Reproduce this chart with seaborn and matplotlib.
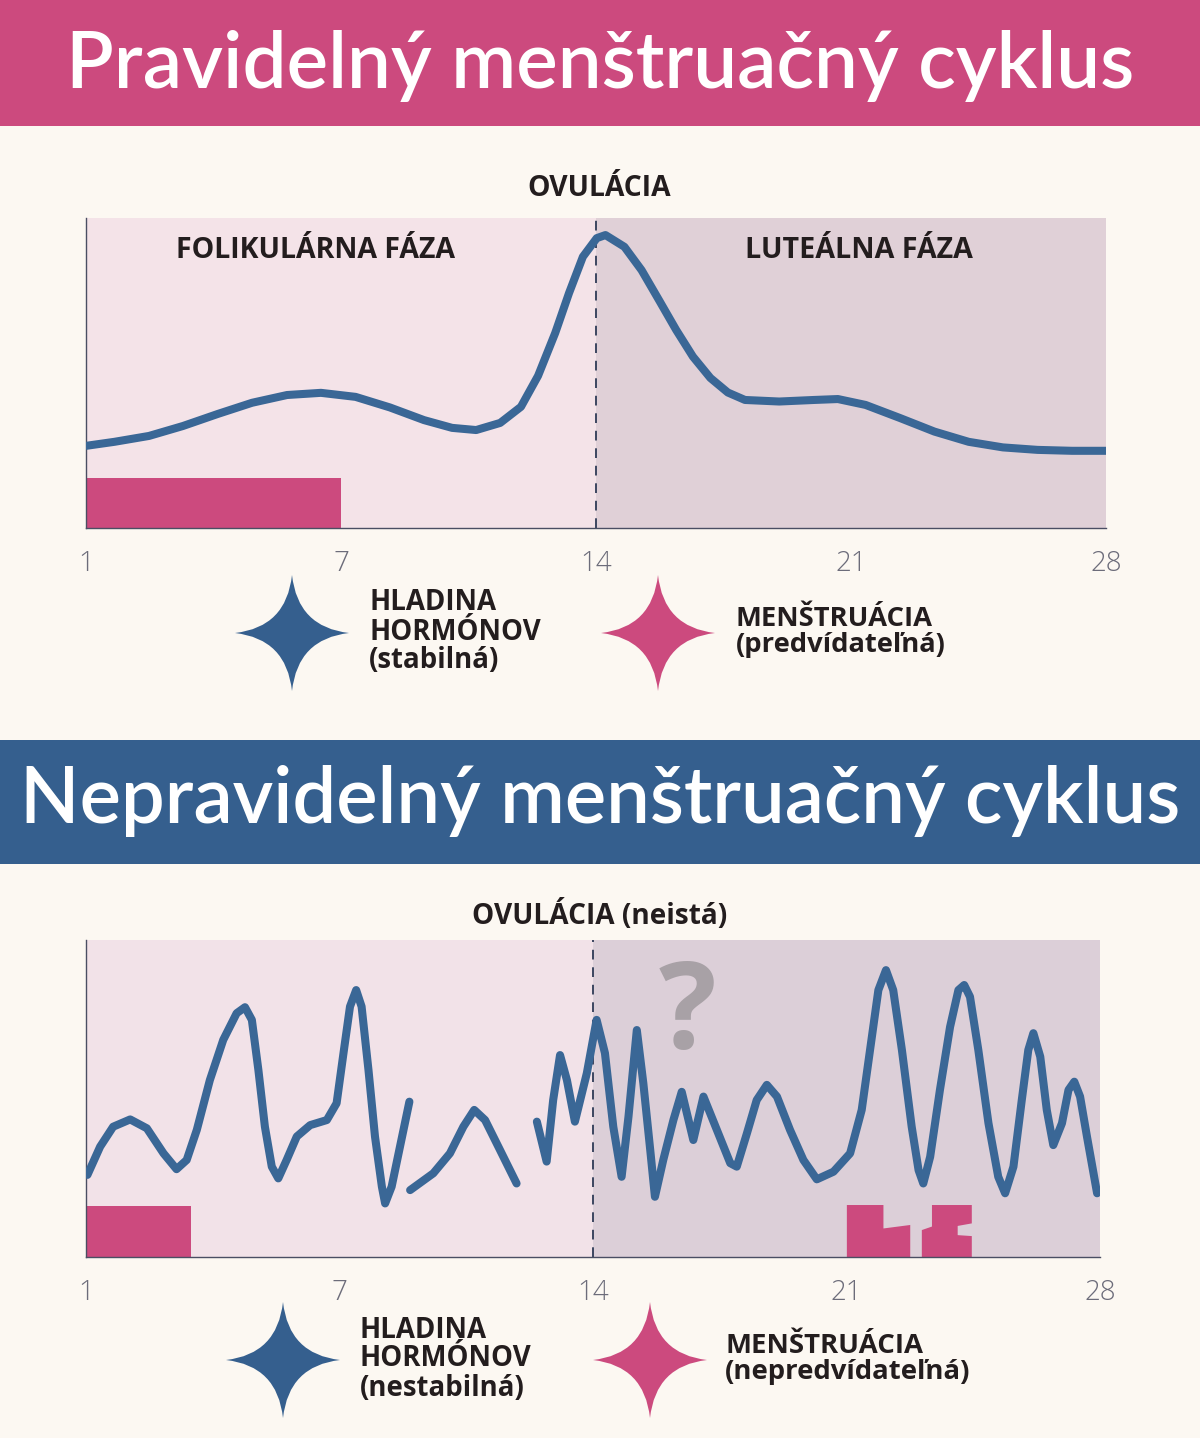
import matplotlib
matplotlib.use("Agg")
import matplotlib.pyplot as plt
import pandas as pd
import seaborn as sns
from matplotlib.path import Path
from matplotlib.patches import PathPatch, Rectangle

# --- data ---
tick_pos = [0, 7, 14, 21, 28]
tick_labels = ["1", "7", "14", "21", "28"]
ovulation_day = 14

# regular cycle: hormone level (0-10 scale)
reg_days = [0, 0.78, 1.73, 2.66, 3.62, 4.56, 5.52, 6.45, 7.4, 8.34, 9.28, 10.05, 10.71, 11.37,
            11.94, 12.41, 12.88, 13.26, 13.64, 14.02, 14.26, 14.78, 15.25, 15.73, 16.2, 16.66,
            17.14, 17.62, 18.09, 19.03, 19.98, 20.64, 21.4, 22.34, 23.29, 24.23, 25.17, 26.12,
            27.07, 28.0]
reg_level = [2.65, 2.78, 2.97, 3.29, 3.68, 4.04, 4.29, 4.36, 4.23, 3.89, 3.48, 3.23, 3.16, 3.39,
             3.91, 4.91, 6.29, 7.58, 8.75, 9.35, 9.45, 9.07, 8.32, 7.35, 6.39, 5.53,
             4.84, 4.37, 4.13, 4.08, 4.13, 4.16, 3.97, 3.55, 3.11, 2.78, 2.6, 2.52,
             2.49, 2.49]
reg_period_start, reg_period_end, period_height = 0, 7, 1.6

# irregular cycle: three broken pieces of the hormone line
irr_days_1 = [0.04, 0.39, 0.75, 1.22, 1.68, 2.14, 2.5, 2.78, 3.06, 3.42, 3.79, 4.16, 4.39, 4.58,
              4.76, 4.94, 5.13, 5.31, 5.54, 5.82, 6.19, 6.65, 6.92, 7.11, 7.29, 7.46, 7.61, 7.8,
              7.98, 8.17, 8.26, 8.44, 8.67, 8.93]
irr_level_1 = [2.59, 3.48, 4.11, 4.34, 4.06, 3.27, 2.77, 3.06, 4.01, 5.58, 6.85, 7.69, 7.88, 7.48,
               5.9, 4.11, 2.85, 2.48, 3.06, 3.8, 4.16, 4.32, 4.85, 6.43, 7.9, 8.42, 7.9, 5.9,
               3.8, 2.22, 1.69, 2.22, 3.48, 4.9]
irr_days_2 = [8.95, 9.59, 10.05, 10.42, 10.72, 11.02, 11.43, 11.89]
irr_level_2 = [2.11, 2.64, 3.27, 4.11, 4.64, 4.32, 3.38, 2.32]
irr_days_3 = [12.45, 12.72, 12.9, 13.09, 13.28, 13.5, 13.83, 14.1, 14.33, 14.56, 14.79, 14.98,
              15.21, 15.39, 15.58, 15.71, 15.94, 16.22, 16.45, 16.77, 17.05, 17.42, 17.79, 17.97,
              18.25, 18.52, 18.8, 19.08, 19.44, 19.81, 20.18, 20.64, 21.1, 21.42, 21.65, 21.88,
              22.09, 22.29, 22.53, 22.8, 22.99, 23.12, 23.31, 23.58, 23.86, 24.09, 24.25, 24.41,
              24.64, 24.92, 25.19, 25.38, 25.61, 25.84, 26.02, 26.16, 26.35, 26.53, 26.71, 26.95,
              27.13, 27.29, 27.45, 27.64, 27.92]
irr_level_3 = [4.27, 3.01, 4.95, 6.37, 5.58, 4.27, 5.8, 7.48, 6.43, 4.11, 2.53, 4.43,
               7.16, 5.48, 3.38, 1.9, 3.06, 4.32, 5.21, 3.69, 5.06, 4.01, 2.96, 2.85,
               3.9, 4.95, 5.43, 5.06, 4.01, 3.06, 2.45, 2.69, 3.27, 4.64, 6.53, 8.42,
               9.05, 8.42, 6.53, 4.11, 2.74, 2.32, 3.16, 5.27, 7.26, 8.42, 8.58, 8.21,
               6.53, 4.22, 2.53, 2.01, 2.85, 4.95, 6.53, 7.06, 6.32, 4.64, 3.53, 4.22,
               5.27, 5.53, 5.06, 3.8, 2.01]
irr_period_start, irr_period_end = 0, 2.9
irr_block_a = [(21.01, 0), (21.01, 1.64), (22.02, 1.64), (22.02, 0.9), (22.76, 1.01), (22.76, 0)]
irr_block_b = [(23.08, 0), (23.08, 0.85), (23.36, 0.96), (23.36, 1.64), (24.46, 1.64),
               (24.46, 1.06), (24.07, 0.98), (24.07, 0.69), (24.46, 0.66), (24.46, 0)]

# --- colours ---
BG = "#fcf8f2"
PINK = "#cc4a7e"
BLUE = "#355f8e"
LINE = "#3a6796"
DARK = "#231d1e"
TICK = "#6c6c7a"

sns.set_theme(style="white")
plt.rcParams["font.family"] = ["Open Sans", "DejaVu Sans"]

fig = plt.figure(figsize=(12, 14.38), dpi=100)
fig.patch.set_facecolor(BG)


def chart(rect, left_bg, right_bg, right_end):
    ax = fig.add_axes(rect)
    ax.set_facecolor("none")
    ax.set_xlim(0, right_end)
    ax.set_ylim(0, 10)
    ax.axvspan(0, ovulation_day, color=left_bg, lw=0, zorder=0)
    ax.axvspan(ovulation_day, right_end, color=right_bg, lw=0, zorder=0)
    ax.axvline(ovulation_day, color="#3c4660", lw=1.4, ls=(0, (5, 4)), zorder=1)
    for s in ["top", "right"]:
        ax.spines[s].set_visible(False)
    for s in ["left", "bottom"]:
        ax.spines[s].set_color("#4a4e63")
        ax.spines[s].set_linewidth(1.0)
        ax.spines[s].set_zorder(3)
    ax.set_xticks(tick_pos)
    ax.set_xticklabels(tick_labels, fontsize=20, color=TICK, fontweight="light")
    ax.tick_params(axis="x", length=0, pad=16)
    ax.set_yticks([])
    return ax


# --- top chart (regular) ---
ax1 = chart([86 / 1200, 1 - 528 / 1438, 1020 / 1200, 310 / 1438], "#f4e3e8", "#e0d0d7", 28)
ax1.add_patch(Rectangle((reg_period_start, 0), reg_period_end - reg_period_start, period_height,
                        color=PINK, lw=0, zorder=2))
reg_df = pd.DataFrame({"day": reg_days, "level": reg_level})
sns.lineplot(data=reg_df, x="day", y="level", ax=ax1, color=LINE, lw=5.8, sort=False,
             solid_capstyle="round", solid_joinstyle="round", zorder=4)
ax1.set_xlabel("")
ax1.set_ylabel("")

# --- bottom chart (irregular) ---
ax2 = chart([86 / 1200, 1 - 1257 / 1438, 1014 / 1200, 317 / 1438], "#f2e2e8", "#dccfd8", 28)
ax2.add_patch(Rectangle((irr_period_start, 0), irr_period_end - irr_period_start, period_height,
                        color=PINK, lw=0, zorder=2))
for blk in [irr_block_a, irr_block_b]:
    ax2.fill([p[0] for p in blk], [p[1] for p in blk], color=PINK, lw=0, zorder=2)
irr_df = pd.concat([
    pd.DataFrame({"day": irr_days_1, "level": irr_level_1, "piece": 1}),
    pd.DataFrame({"day": irr_days_2, "level": irr_level_2, "piece": 2}),
    pd.DataFrame({"day": irr_days_3, "level": irr_level_3, "piece": 3}),
])
sns.lineplot(data=irr_df, x="day", y="level", units="piece", estimator=None, ax=ax2,
             color=LINE, lw=5.8, sort=False, solid_capstyle="round",
             solid_joinstyle="round", zorder=4)
ax2.set_xlabel("")
ax2.set_ylabel("")

# --- overlay in pixel coordinates for banners, labels, legend stars ---
ov = fig.add_axes([0, 0, 1, 1], zorder=10)
ov.set_xlim(0, 1200)
ov.set_ylim(1438, 0)
ov.axis("off")
ov.set_facecolor("none")

ov.add_patch(Rectangle((0, 0), 1200, 126, color=PINK, lw=0))
ov.add_patch(Rectangle((0, 740), 1200, 124, color=BLUE, lw=0))

renderer = fig.canvas.get_renderer()


def put(x, y, s, width, size, ha="center", color=DARK, weight="bold", family=None, ls=1.0):
    t = ov.text(x, y, s, ha=ha, va="center", fontsize=size, color=color,
                fontweight=weight, linespacing=ls,
                family=family or ["Open Sans", "DejaVu Sans"])
    w = t.get_window_extent(renderer).width
    t.set_fontsize(size * width / w)
    return t


title_font = ["Lato", "DejaVu Sans"]
put(600, 66, "Pravidelný menštruačný cyklus", 1070, 50, color="white", weight="semibold",
    family=title_font)
put(600, 801, "Nepravidelný menštruačný cyklus", 1160, 50, color="white", weight="semibold",
    family=title_font)

put(599, 188, "OVULÁCIA", 144, 18)
put(316, 251, "FOLIKULÁRNA FÁZA", 280, 18)
put(859, 251, "LUTEÁLNA FÁZA", 228, 18)
put(600, 916, "OVULÁCIA (neistá)", 255, 18)
ov.text(687, 1017, "?", ha="center", va="center", fontsize=87, fontweight="bold",
        color="#a8a1a6", family=["Open Sans", "DejaVu Sans"])


def star(cx, cy, w, h, color):
    c = 0.1
    verts = [(0, -1), (c, -c), (1, 0), (c, c), (0, 1), (-c, c), (-1, 0), (-c, -c), (0, -1)]
    verts = [(cx + vx * w / 2, cy + vy * h / 2) for vx, vy in verts]
    codes = [Path.MOVETO] + [Path.CURVE3] * 8
    ov.add_patch(PathPatch(Path(verts, codes), color=color, lw=0))


star(292, 633, 114, 116, BLUE)
star(658, 633, 114, 116, PINK)
put(369, 632, "HLADINA\nHORMÓNOV\n(stabilná)", 171, 19, ha="left")
put(736, 632, "MENŠTRUÁCIA\n(predvídateľná)", 209, 19, ha="left")

star(283, 1360, 114, 116, BLUE)
star(650, 1360, 114, 116, PINK)
put(360, 1359, "HLADINA\nHORMÓNOV\n(nestabilná)", 171, 19, ha="left")
put(725, 1359, "MENŠTRUÁCIA\n(nepredvídateľná)", 244, 19, ha="left")

fig.savefig("out.png", dpi=100, facecolor=BG)
